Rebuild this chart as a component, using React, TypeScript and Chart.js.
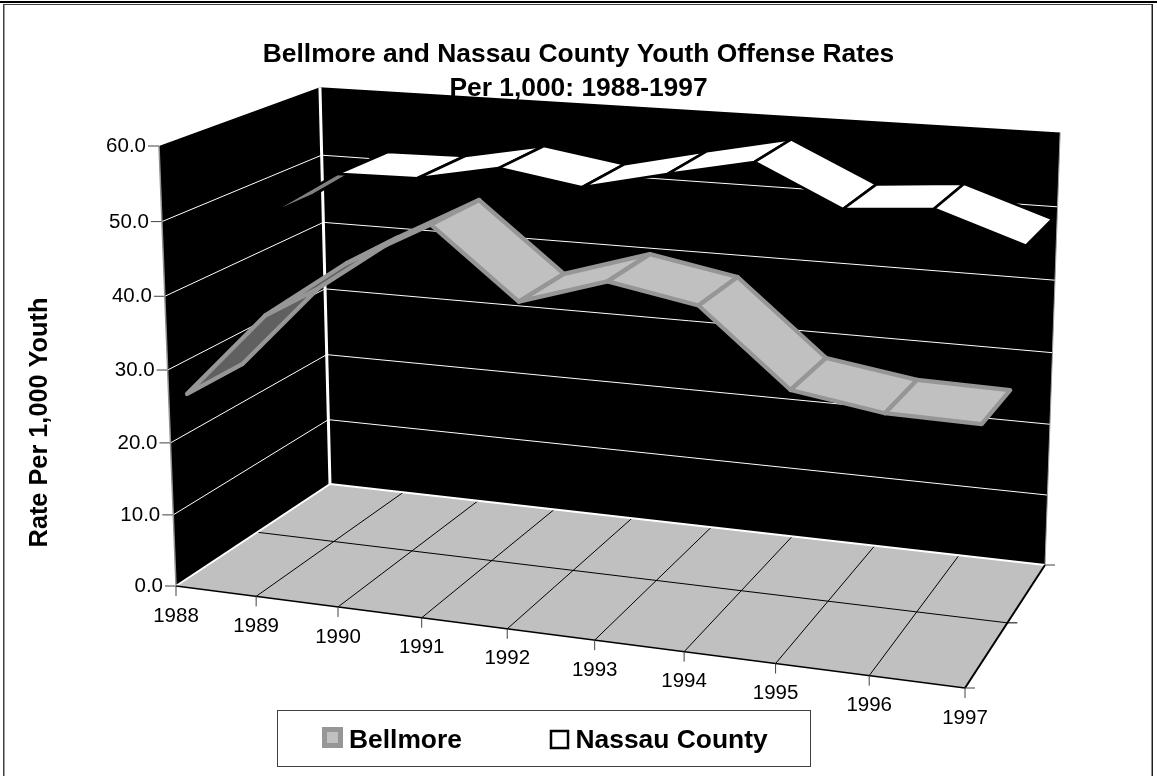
import { useEffect, useRef } from "react";
import { Chart, registerables } from "chart.js";

Chart.register(...registerables);

const FONT = '"Liberation Sans", Arial, sans-serif';

// Chart content
const years = ["1988", "1989", "1990", "1991", "1992", "1993", "1994", "1995", "1996", "1997"];
const bellmore = [25.4, 37.2, 45.2, 51.2, 42.1, 45.7, 43.6, 33.9, 32.1, 31.9];
const nassau = [44.7, 51.8, 52.0, 54.2, 52.4, 55.0, 57.4, 52.0, 52.9, 49.0];
const titleLines = ["Bellmore and Nassau County Youth Offense Rates", "Per 1,000: 1988-1997"];
const valueAxisTitle = "Rate Per 1,000 Youth";

type Pt = [number, number];

// Screen positions of the visible corners of the chart box.
const boxOrigin: Pt = [176, 586];
const boxRight: Pt = [965, 688];
const boxUp: Pt = [159, 146];
const boxDepth: Pt = [330, 484];
const boxRightDepth: Pt = [1045, 565];
const boxUpDepth: Pt = [320, 89.5];

// Perspective terms of a unit square mapped onto the quad p0 p1 p2 p3.
function squareTerms(p0: Pt, p1: Pt, p2: Pt, p3: Pt): Pt {
  const d1 = [p1[0] - p2[0], p1[1] - p2[1]];
  const d2 = [p3[0] - p2[0], p3[1] - p2[1]];
  const s = [p0[0] - p1[0] + p2[0] - p3[0], p0[1] - p1[1] + p2[1] - p3[1]];
  const det = d1[0] * d2[1] - d1[1] * d2[0];
  return [(s[0] * d2[1] - s[1] * d2[0]) / det, (d1[0] * s[1] - d1[1] * s[0]) / det];
}

const [termU, termW] = squareTerms(boxOrigin, boxRight, boxRightDepth, boxDepth);
const [termV] = squareTerms(boxOrigin, boxUp, boxUpDepth, boxDepth);

// Maps box coordinates (each 0..1) to canvas pixels.
function project(u: number, v: number, w: number): Pt {
  const out: number[] = [];
  for (const i of [0, 1]) {
    const a = (1 + termU) * boxRight[i] - boxOrigin[i];
    const b = (1 + termV) * boxUp[i] - boxOrigin[i];
    const c = (1 + termW) * boxDepth[i] - boxOrigin[i];
    out.push((boxOrigin[i] + a * u + b * v + c * w) / (1 + termU * u + termV * v + termW * w));
  }
  return out as Pt;
}

type Look = {
  near: number;
  far: number;
  top: string;
  under: string;
  edge: string;
  edgeWidth: number;
};

const ribbonLooks: Look[] = [
  { near: 0.105, far: 0.44, top: "#C0C0C0", under: "#606060", edge: "#969696", edgeWidth: 4.3 },
  { near: 0.585, far: 0.935, top: "#FFFFFF", under: "#808080", edge: "#000000", edgeWidth: 2.6 },
];

function segment(ctx: CanvasRenderingContext2D, a: Pt, b: Pt, color: string, width: number) {
  ctx.strokeStyle = color;
  ctx.lineWidth = width;
  ctx.beginPath();
  ctx.moveTo(a[0], a[1]);
  ctx.lineTo(b[0], b[1]);
  ctx.stroke();
}

function polygon(ctx: CanvasRenderingContext2D, pts: Pt[]) {
  ctx.beginPath();
  pts.forEach((p, i) => (i ? ctx.lineTo(p[0], p[1]) : ctx.moveTo(p[0], p[1])));
  ctx.closePath();
}

const boxPlugin = {
  id: "box3d",
  beforeDraw(chart: any) {
    const { ctx, scales, width, height } = chart;
    const yScale = scales.y;
    const xScale = scales.x;
    const area = chart.chartArea;
    const toU = (px: number) => (px - area.left) / (area.right - area.left);
    const toV = (px: number) => (area.bottom - px) / (area.bottom - area.top);

    ctx.save();
    ctx.fillStyle = "#FFFFFF";
    ctx.fillRect(0, 0, width, height);

    // Page frame
    ctx.fillStyle = "#000000";
    ctx.fillRect(0, 1, width, 2);
    ctx.fillStyle = "#404040";
    ctx.fillRect(3, 4, 1149, 1);
    ctx.fillRect(3, 4, 1.5, height);
    ctx.fillStyle = "#202020";
    ctx.fillRect(1151.5, 4, 1.5, height);

    // Walls and floor
    ctx.fillStyle = "#000000";
    polygon(ctx, [project(0, 0, 0), project(0, 1, 0), project(0, 1, 1), project(0, 0, 1)]);
    ctx.fill();
    polygon(ctx, [project(0, 0, 1), project(0, 1, 1), project(1, 1, 1), project(1, 0, 1)]);
    ctx.fill();
    ctx.fillStyle = "#C0C0C0";
    polygon(ctx, [project(0, 0, 0), project(1, 0, 0), project(1, 0, 1), project(0, 0, 1)]);
    ctx.fill();

    // Value gridlines on both walls, value ticks and labels
    ctx.textBaseline = "middle";
    ctx.textAlign = "right";
    ctx.font = `20.5px ${FONT}`;
    for (const tick of yScale.ticks) {
      const v = toV(yScale.getPixelForValue(tick.value));
      const front = project(0, v, 0);
      if (tick.value > 0 && tick.value < 60) {
        segment(ctx, front, project(0, v, 1), "#FFFFFF", 1);
        segment(ctx, project(0, v, 1), project(1, v, 1), "#FFFFFF", 1);
      }
      segment(ctx, [front[0] - 11, front[1]], front, "#404040", 1);
      ctx.fillStyle = "#000000";
      ctx.fillText(tick.label, front[0] - 13, front[1] + 0.5);
    }

    // Floor gridlines
    xScale.ticks.forEach((_: unknown, i: number) => {
      const u = toU(xScale.getPixelForTick(i));
      if (i > 0 && i < years.length - 1) {
        segment(ctx, project(u, 0, 0), project(u, 0, 1), "#000000", 1);
      }
    });
    segment(ctx, project(0, 0, 0.5), project(1, 0, 0.5), "#000000", 1);

    // Box edges
    segment(ctx, project(0, 0, 0), project(0, 1, 0), "#909090", 1.5);
    segment(ctx, project(0, 0, 0), project(0, 0, 1), "#FFFFFF", 2);
    segment(ctx, project(0, 0, 1), project(1, 0, 1), "#FFFFFF", 2);
    segment(ctx, project(0, 0, 1), project(0, 1, 1), "#FFFFFF", 3);
    segment(ctx, project(1, 0, 1), project(1, 1, 1), "#A0A0A0", 1);
    segment(ctx, project(0, 0, 0), project(1, 0, 0), "#000000", 1.5);
    segment(ctx, project(1, 0, 0), project(1, 0, 1), "#000000", 2);

    // Year ticks and labels along the front edge
    ctx.textAlign = "center";
    xScale.ticks.forEach((_: unknown, i: number) => {
      const p = project(toU(xScale.getPixelForTick(i)), 0, 0);
      segment(ctx, p, [p[0], p[1] + 10], "#404040", 1);
      ctx.fillStyle = "#000000";
      ctx.fillText(xScale.getLabelForValue(i), p[0], p[1] + 30);
    });

    // Depth ticks on the right side
    for (const [w, color] of [[0, "#404040"], [0.5, "#000000"], [1, "#404040"]] as [number, string][]) {
      const p = project(1, 0, w);
      segment(ctx, p, [p[0] + 10, p[1]], color, 1);
    }

    // Value axis title
    ctx.save();
    ctx.translate(40.5, 422.5);
    ctx.rotate(-Math.PI / 2);
    ctx.font = `bold 25.3px ${FONT}`;
    ctx.fillText(valueAxisTitle, 0, 0);
    ctx.restore();
    ctx.restore();
  },
  // Ribbons are built from the points the line controller placed on its scales.
  beforeDatasetDraw(chart: any, args: any) {
    const { ctx } = chart;
    const area = chart.chartArea;
    const look = ribbonLooks[args.index];
    const points = args.meta.data;
    const corners = points.map((el: any) => {
      const u = (el.x - area.left) / (area.right - area.left);
      const v = (area.bottom - el.y) / (area.bottom - area.top);
      return [project(u, v, look.near), project(u, v, look.far)];
    });
    ctx.save();
    ctx.lineJoin = "round";
    for (let i = 0; i < corners.length - 1; i++) {
      const quad: Pt[] = [corners[i][0], corners[i + 1][0], corners[i + 1][1], corners[i][1]];
      let twice = 0;
      quad.forEach((p, k) => {
        const q = quad[(k + 1) % 4];
        twice += p[0] * q[1] - q[0] * p[1];
      });
      polygon(ctx, quad);
      ctx.fillStyle = twice < 0 ? look.top : look.under;
      ctx.fill();
      ctx.strokeStyle = look.edge;
      ctx.lineWidth = look.edgeWidth;
      ctx.stroke();
    }
    ctx.restore();
    return false;
  },
  afterDraw(chart: any) {
    const { ctx, data } = chart;
    ctx.save();
    ctx.fillStyle = "#FFFFFF";
    ctx.fillRect(277.5, 710.5, 533, 56);
    ctx.strokeStyle = "#404040";
    ctx.lineWidth = 1;
    ctx.strokeRect(277.5, 710.5, 533, 56);

    ctx.fillStyle = ribbonLooks[0].edge;
    ctx.fillRect(322, 727, 21, 21);
    ctx.fillStyle = ribbonLooks[0].top;
    ctx.fillRect(327, 732, 11, 11);
    ctx.fillStyle = "#FFFFFF";
    ctx.strokeStyle = "#000000";
    ctx.lineWidth = 2.5;
    ctx.fillRect(551, 731, 17, 17);
    ctx.strokeRect(551, 731, 17, 17);

    ctx.fillStyle = "#000000";
    ctx.textAlign = "left";
    ctx.textBaseline = "alphabetic";
    ctx.font = `bold 26.4px ${FONT}`;
    ctx.fillText(data.datasets[0].label, 349, 748);
    ctx.fillText(data.datasets[1].label, 575.5, 748);
    ctx.restore();
  },
};

export default function App() {
  const canvasRef = useRef<HTMLCanvasElement>(null);

  useEffect(() => {
    document.body.style.margin = "0";
    const chart = new Chart(canvasRef.current!, {
      type: "line",
      data: {
        labels: years,
        datasets: [
          { label: "Bellmore", data: bellmore },
          { label: "Nassau County", data: nassau },
        ],
      },
      options: {
        animation: false,
        responsive: false,
        events: [],
        layout: { padding: 0 },
        plugins: {
          legend: { display: false },
          tooltip: { enabled: false },
          title: {
            display: true,
            text: titleLines,
            color: "#000000",
            font: { family: FONT, weight: "bold", size: 26.4, lineHeight: 1.288 },
            padding: { top: 37.5, bottom: 0 },
          },
        },
        scales: {
          x: { type: "category", display: false, offset: false, ticks: { autoSkip: false } },
          y: {
            type: "linear",
            display: false,
            min: 0,
            max: 60,
            ticks: { stepSize: 10, callback: (v: number) => Number(v).toFixed(1) },
          },
        },
      },
      plugins: [boxPlugin],
    } as any);
    return () => chart.destroy();
  }, []);

  return <canvas ref={canvasRef} width={1157} height={776} style={{ display: "block" }} />;
}
